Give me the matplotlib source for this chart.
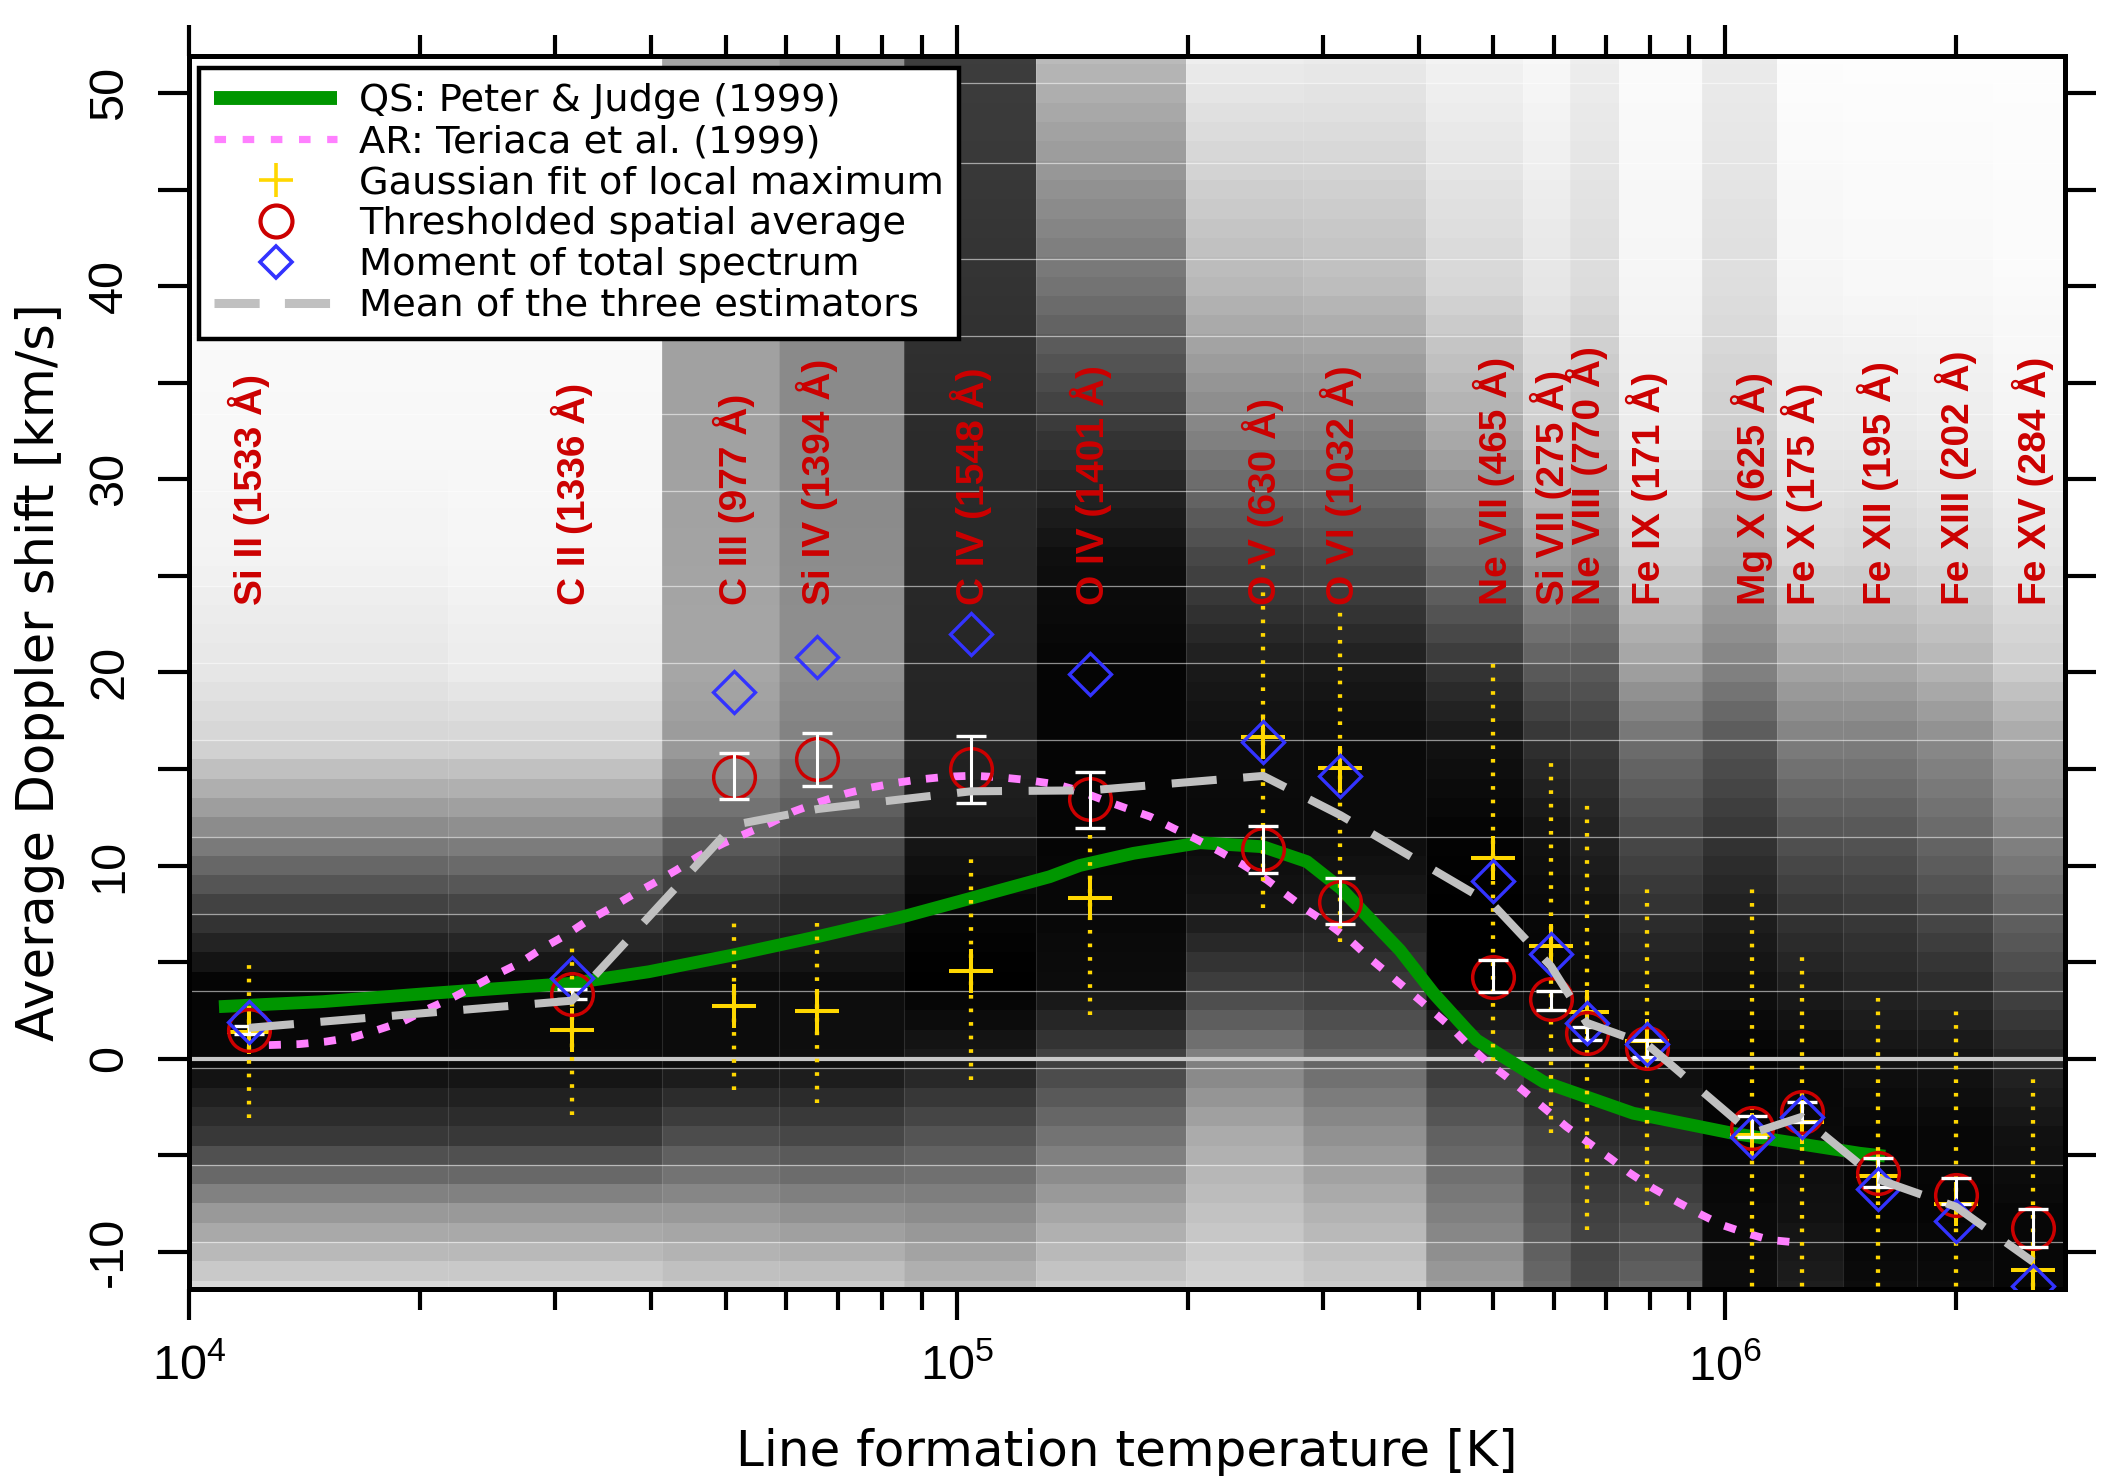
import numpy as np
import matplotlib
matplotlib.use("Agg")
import matplotlib.pyplot as plt
from matplotlib.lines import Line2D
from matplotlib.ticker import FixedLocator, FixedFormatter, LogLocator, MultipleLocator, NullFormatter

plt.rcParams["axes.unicode_minus"] = False
plt.rcParams["mathtext.fontset"] = "custom"
plt.rcParams["mathtext.rm"] = "Liberation Sans"
plt.rcParams["mathtext.default"] = "rm"
plt.rcParams["font.family"] = ["DejaVu Sans"]

# ---------------------------------------------------------------- spectral lines
line_names = ["Si II (1533 Å)", "C II (1336 Å)", "C III (977 Å)", "Si IV (1394 Å)",
              "C IV (1548 Å)", "O IV (1401 Å)", "O V (630 Å)", "O VI (1032 Å)",
              "Ne VII (465 Å)", "Si VII (275 Å)", "Ne VIII (770 Å)", "Fe IX (171 Å)",
              "Mg X (625 Å)", "Fe X (175 Å)", "Fe XII (195 Å)", "Fe XIII (202 Å)",
              "Fe XV (284 Å)"]
line_T = [1.197e4, 3.15e4, 5.12e4, 6.58e4, 1.043e5, 1.493e5, 2.506e5, 3.16e5,
          5.0e5, 5.94e5, 6.61e5, 7.93e5, 1.084e6, 1.26e6, 1.585e6, 2.0e6, 2.52e6]

# Doppler shift estimators [km/s]
gauss_fit = [1.39, 1.48, 2.72, 2.46, 4.55, 8.33, 16.67, 15.03,
             10.41, 5.85, 2.40, 0.90, -3.96, -3.27, -6.08, -7.53, -10.95]
spatial_avg = [1.48, 3.33, 14.60, 15.53, 14.99, 13.43, 10.84, 8.13,
               4.24, 3.09, 1.31, 0.53, -3.58, -2.78, -5.91, -7.06, -8.79]
spatial_lo = [1.30, 3.10, 13.43, 14.12, 13.24, 11.93, 9.60, 6.97,
              3.47, 2.52, 0.96, 0.10, -4.08, -3.27, -6.63, -7.53, -9.74]
spatial_hi = [1.70, 3.60, 15.81, 16.85, 16.69, 14.83, 12.06, 9.37,
              5.11, 3.52, 1.62, 0.95, -2.97, -2.23, -5.16, -6.20, -7.80]
moment = [1.91, 4.19, 18.98, 20.78, 21.99, 19.92, 16.41, 14.65,
          9.20, 5.42, 1.86, 0.76, -4.08, -3.00, -6.77, -8.41, -11.80]
# range of the Gaussian-fit distribution (dotted bars)
gauss_lo = [-3.09, -2.92, -1.63, -2.32, -1.11, 2.26, 7.78, 6.05,
            -0.10, -3.86, -8.88, -7.58, -12.5, -12.5, -12.5, -12.5, -12.5]
gauss_hi = [5.19, 5.97, 7.21, 7.21, 10.46, 11.84, 25.70, 23.14,
            20.56, 15.30, 13.60, 8.82, 8.87, 5.46, 3.59, 2.78, -0.94]

# ---------------------------------------------------------------- reference curves
qs_logT = [4.039, 4.174, 4.304, 4.498, 4.599, 4.709, 4.818, 4.930, 5.018, 5.121,
           5.160, 5.230, 5.317, 5.399, 5.456, 5.500, 5.556, 5.577, 5.621, 5.664,
           5.677, 5.764, 5.881, 6.011, 6.176, 6.209]
qs_v = [2.69, 2.95, 3.35, 3.90, 4.50, 5.37, 6.31, 7.35, 8.30, 9.42,
        10.00, 10.63, 11.18, 10.97, 10.20, 8.82, 6.49, 5.62, 3.38, 1.50,
        0.96, -1.20, -2.83, -3.87, -4.90, -5.05]

ar_logT = [4.104, 4.143, 4.178, 4.213, 4.245, 4.278, 4.308, 4.339, 4.369, 4.399,
           4.430, 4.460, 4.491, 4.517, 4.547, 4.577, 4.605, 4.635, 4.666, 4.696,
           4.726, 4.757, 4.787, 4.822, 4.857, 4.887, 4.922, 4.952, 4.987, 5.021,
           5.056, 5.091, 5.130, 5.156, 5.191, 5.221, 5.252, 5.282, 5.312, 5.343,
           5.373, 5.404, 5.430, 5.456, 5.486, 5.512, 5.538, 5.564, 5.590, 5.617,
           5.643, 5.664, 5.690, 5.716, 5.742, 5.768, 5.794, 5.824, 5.851, 5.877,
           5.907, 5.938, 5.968, 5.997, 6.029, 6.059, 6.096, 6.102]
ar_v = [0.70, 0.75, 0.88, 1.10, 1.48, 1.91, 2.52, 3.07, 3.69, 4.33,
        4.93, 5.71, 6.40, 7.09, 7.75, 8.47, 9.08, 9.77, 10.54, 11.15,
        11.67, 12.19, 12.79, 13.30, 13.74, 14.03, 14.29, 14.46, 14.60, 14.65,
        14.57, 14.43, 14.20, 13.91, 13.39, 12.96, 12.53, 11.93, 11.36, 10.71,
        10.03, 9.25, 8.47, 7.70, 6.92, 6.14, 5.19, 4.33, 3.46, 2.55,
        1.65, 0.79, -0.16, -0.94, -1.80, -2.66, -3.53, -4.39, -5.16, -5.94,
        -6.72, -7.41, -8.05, -8.62, -9.05, -9.39, -9.53, -9.55]

# ---------------------------------------------------------------- histogram background
band_edges_logT = [4.0, 4.337, 4.616, 4.768, 4.931, 5.103, 5.299, 5.451, 5.611,
                   5.738, 5.798, 5.862, 5.971, 6.068, 6.154, 6.251, 6.350, 6.45]
bg_nodes = [-12, -8, -4, 0, 4, 8, 12, 16, 20, 26, 32, 40, 52]
bg_gray = [
    [0.85, 0.60, 0.22, 0.03, 0.02, 0.26, 0.55, 0.82, 0.90, 0.95, 0.97, 0.98, 0.99],  # Si II
    [0.85, 0.60, 0.22, 0.04, 0.03, 0.27, 0.56, 0.82, 0.92, 0.96, 0.97, 0.98, 0.99],  # C II
    [0.80, 0.60, 0.30, 0.05, 0.05, 0.20, 0.40, 0.60, 0.65, 0.64, 0.63, 0.63, 0.64],  # C III
    [0.80, 0.57, 0.28, 0.06, 0.05, 0.17, 0.33, 0.50, 0.56, 0.55, 0.54, 0.54, 0.56],  # Si IV
    [0.73, 0.55, 0.33, 0.10, 0.00, 0.03, 0.10, 0.14, 0.15, 0.16, 0.17, 0.20, 0.24],  # C IV
    [0.80, 0.65, 0.45, 0.25, 0.05, 0.03, 0.02, 0.02, 0.02, 0.06, 0.20, 0.45, 0.73],  # O IV
    [0.83, 0.76, 0.67, 0.50, 0.24, 0.08, 0.04, 0.05, 0.10, 0.28, 0.50, 0.72, 0.93],  # O V
    [0.80, 0.70, 0.57, 0.40, 0.22, 0.10, 0.04, 0.04, 0.10, 0.30, 0.50, 0.74, 0.92],  # O VI
    [0.62, 0.50, 0.38, 0.20, 0.00, 0.00, 0.02, 0.07, 0.20, 0.45, 0.66, 0.84, 0.95],  # Ne VII
    [0.42, 0.33, 0.26, 0.10, 0.02, 0.04, 0.08, 0.18, 0.35, 0.62, 0.80, 0.90, 0.97],  # Si VII
    [0.30, 0.25, 0.17, 0.04, 0.04, 0.08, 0.14, 0.22, 0.35, 0.57, 0.74, 0.86, 0.93],  # Ne VIII
    [0.40, 0.28, 0.15, 0.03, 0.10, 0.20, 0.30, 0.42, 0.62, 0.82, 0.92, 0.96, 0.98],  # Fe IX
    [0.05, 0.04, 0.02, 0.01, 0.07, 0.13, 0.22, 0.32, 0.50, 0.68, 0.80, 0.87, 0.92],  # Mg X
    [0.12, 0.07, 0.04, 0.03, 0.12, 0.22, 0.34, 0.48, 0.64, 0.84, 0.91, 0.96, 0.99],  # Fe X
    [0.05, 0.02, 0.02, 0.07, 0.15, 0.24, 0.35, 0.48, 0.65, 0.83, 0.91, 0.97, 0.99],  # Fe XII
    [0.05, 0.02, 0.03, 0.08, 0.18, 0.30, 0.42, 0.53, 0.70, 0.85, 0.92, 0.97, 0.99],  # Fe XIII
    [0.03, 0.03, 0.07, 0.15, 0.28, 0.40, 0.53, 0.63, 0.80, 0.90, 0.95, 0.98, 0.99],  # Fe XV
]
# light raster seams across the histogram image
seam_rows = [50.5, 46.4, 41.4, 37.4, 33.4, 29.4, 24.5, 20.5, 16.5, 11.5, 7.5,
             3.5, -0.5, -5.5, -9.5]

# ---------------------------------------------------------------- styling
GREEN = "#009600"
PINK = "#FF80FF"
YELLOW = "#FFD700"
RED = "#CC0000"
BLUE = "#3333FF"
GRAY = "#C0C0C0"

fig = plt.figure(figsize=(21.14, 14.82), dpi=100)
ax = fig.add_axes([189 / 2114, 1 - 1289 / 1482, 1876 / 2114, 1233 / 1482])
ax.set_xscale("log")
ax.set_xlim(1e4, 10 ** 6.4433)
ax.set_ylim(-11.93, 51.92)

# background histogram image
v_rows = np.arange(-12, 53)
gray_img = np.array([np.interp(v_rows, bg_nodes, col) for col in bg_gray]).T
ax.pcolormesh(10 ** np.array(band_edges_logT), np.arange(-12.5, 53.5, 1.0), gray_img,
              cmap="gray", vmin=0, vmax=1, shading="flat", zorder=0,
              antialiased=False, rasterized=True)
for v in seam_rows:
    ax.axhline(v, color="white", alpha=0.55, lw=0.9, zorder=0.5)
for e in band_edges_logT[1:-1]:
    ax.axvline(10 ** e, color="white", alpha=0.12, lw=0.8, zorder=0.5)
ax.axhline(0, color="#C8C8C8", lw=3.0, zorder=0.6)

# reference curves
ax.plot(10 ** np.array(qs_logT), qs_v, color=GREEN, lw=9.2, solid_capstyle="butt", zorder=2)
ax.plot(10 ** np.array(ar_logT), ar_v, color=PINK, lw=5.6, ls=(0, (1.55, 2.0)),
        dash_capstyle="butt", zorder=3)

# estimators
ax.vlines(line_T, gauss_lo, gauss_hi, colors=YELLOW, lw=3.1,
          linestyles=[(0, (0.85, 2.3))], zorder=3.5)
ax.plot(line_T, gauss_fit, ls="none", marker="+", ms=32, mew=2.9, color=YELLOW, zorder=4)
ax.plot(line_T, spatial_avg, ls="none", marker="o", ms=30, mfc="none", mec=RED,
        mew=2.5, zorder=5)
sa = np.array(spatial_avg)
ax.errorbar(line_T, sa, yerr=[sa - np.array(spatial_lo), np.array(spatial_hi) - sa],
            fmt="none", ecolor="white", elinewidth=2.2, capsize=10.8, capthick=2.4,
            zorder=5.5)
ax.plot(line_T, moment, ls="none", marker="D", ms=21.5, mfc="none", mec=BLUE,
        mew=2.4, zorder=6)
mean_est = (np.array(gauss_fit) + sa + np.array(moment)) / 3.0
ax.plot(line_T, mean_est, color=GRAY, lw=5.8, ls=(0, (5.6, 3.3)),
        dash_capstyle="butt", zorder=7)

# line identifications
for T, name in zip(line_T, line_names):
    ax.text(T, 23.5, name, rotation=90, ha="center", va="bottom", color=RED,
            fontsize=28, fontweight="bold", family="Liberation Sans", zorder=8)

# axes and ticks
for sp in ax.spines.values():
    sp.set_linewidth(3.6)
ax.xaxis.set_major_locator(FixedLocator([1e4, 1e5, 1e6]))
ax.xaxis.set_major_formatter(FixedFormatter(["$10^{4}$", "$10^{5}$", "$10^{6}$"]))
ax.xaxis.set_minor_locator(LogLocator(base=10, subs=np.arange(2, 10), numticks=20))
ax.xaxis.set_minor_formatter(NullFormatter())
ax.yaxis.set_major_locator(MultipleLocator(10))
ax.yaxis.set_minor_locator(MultipleLocator(5))
ax.tick_params(axis="both", which="both", direction="out", width=3,
               top=True, right=True, labeltop=False, labelright=False)
ax.tick_params(axis="x", which="major", length=22, labelsize=35, pad=16)
ax.tick_params(axis="x", which="minor", length=15)
ax.tick_params(axis="y", which="both", length=22)
ax.tick_params(axis="y", which="major", labelsize=35, pad=19, labelrotation=90,
               labelfontfamily="Liberation Sans")
for lab in ax.get_yticklabels():
    lab.set_va("center")

ax.set_xlabel("Line formation temperature [K]", fontsize=36)
ax.xaxis.set_label_coords(0.5, -0.113)
ax.set_ylabel("Average Doppler shift [km/s]", fontsize=37)
ax.yaxis.set_label_coords(-0.066, 0.5)

# legend
handles = [
    Line2D([], [], color=GREEN, lw=10, solid_capstyle="butt"),
    Line2D([], [], color=PINK, lw=5.2, ls=(0, (1.6, 2.3)), dash_capstyle="butt"),
    Line2D([], [], ls="none", marker="+", ms=24, mew=2.6, color=YELLOW),
    Line2D([], [], ls="none", marker="o", ms=23, mfc="none", mec=RED, mew=3),
    Line2D([], [], ls="none", marker="D", ms=16, mfc="none", mec=BLUE, mew=2.6),
    Line2D([], [], color=GRAY, lw=6.5, ls=(0, (5, 2.8)), dash_capstyle="butt"),
]
labels = ["QS: Peter & Judge (1999)", "AR: Teriaca et al. (1999)",
          "Gaussian fit of local maximum", "Thresholded spatial average",
          "Moment of total spectrum", "Mean of the three estimators"]
leg = ax.legend(handles, labels, loc="upper left", bbox_to_anchor=(0.0053, 0.9905),
                borderaxespad=0, fontsize=27.6, handlelength=3.2, handletextpad=0.57,
                borderpad=0.4, labelspacing=0.13, fancybox=False, framealpha=1,
                edgecolor="black")
leg.get_frame().set_linewidth(3.2)
leg.set_zorder(20)

fig.savefig("out.png", dpi=100, facecolor="white")
